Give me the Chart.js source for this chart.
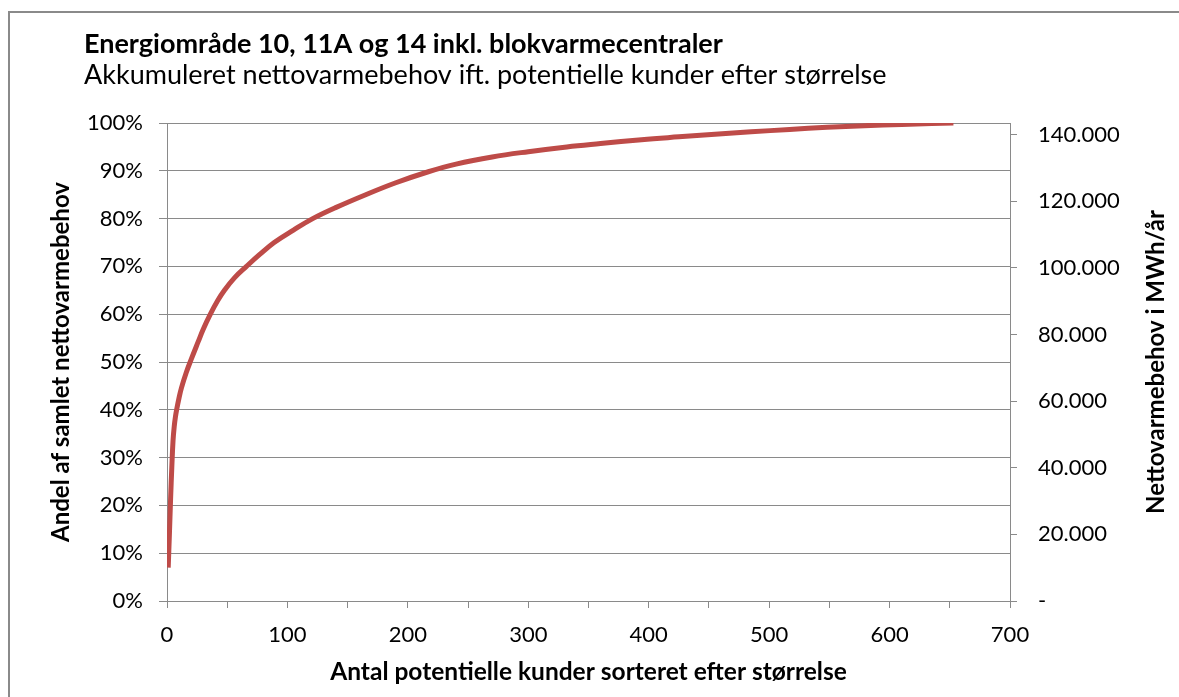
<!DOCTYPE html>
<html lang="da">
<head>
<meta charset="utf-8">
<title>Akkumuleret nettovarmebehov</title>
<script src="https://cdn.jsdelivr.net/npm/chart.js@4.4.1/dist/chart.umd.min.js"></script>
<style>
    html, body { margin: 0; padding: 0; background: #fff; overflow: hidden; }
    #frame { position: absolute; left: 8px; top: 11px; width: 1300px; height: 800px; border: 2px solid #8a8a8a; }
    #chart { position: absolute; left: 0; top: 0; }
</style>
</head>
<body>
<div id="frame"></div>
<canvas id="chart" width="1179" height="697"></canvas>
<script>
// Texts
const titleText = 'Energiområde 10, 11A og 14 inkl. blokvarmecentraler';
const subtitleText = 'Akkumuleret nettovarmebehov ift. potentielle kunder efter størrelse';
const xTitle = 'Antal potentielle kunder sorteret efter størrelse';
const yTitle = 'Andel af samlet nettovarmebehov';
const y2Title = 'Nettovarmebehov i MWh/år';

// Number of customers (sorted by size, largest first)
const customers = [1, 2, 3, 4, 5, 6, 7, 8, 10, 12, 16, 20, 26, 30, 36, 42, 48, 56, 66, 77, 89, 105, 121, 140, 165, 190, 217, 240, 270, 300, 332, 360, 394, 425, 455, 485, 517, 548, 579, 610, 635, 653];
// Accumulated share of total net heat demand (%)
const cumShare = [7, 14, 21.5, 28, 33.5, 36.5, 38.5, 40, 42.5, 44.6, 47.8, 50.5, 54.3, 56.8, 60, 62.8, 65.1, 67.6, 70, 72.5, 75, 77.6, 80, 82.3, 85, 87.5, 89.8, 91.4, 92.9, 94.0, 95.0, 95.7, 96.5, 97.1, 97.65, 98.15, 98.65, 99.1, 99.45, 99.7, 99.88, 100];

// Axis ranges / ticks
const xMax = 700, xStep = 50, xLabelStep = 100;
const shareTicksStep = 10;
const totalMWh = 143500;  // 100 % on the right axis
const mwhTicks = [0, 20000, 40000, 60000, 80000, 100000, 120000, 140000];

const fontFamily = 'Lato, "Open Sans", sans-serif';
const gridColor = '#8a8a8a';

function fmtThousands(v) {
    if (v === 0) return '-';
    return String(Math.round(v)).replace(/\B(?=(\d{3})+(?!\d))/g, '.');
}

// Draw title, subtitle and the right-hand axis title (reads bottom-up like the left one)
const headerPlugin = {
    id: 'header',
    afterDraw(chart) {
        const ctx = chart.ctx;
        const area = chart.chartArea;
        ctx.save();
        ctx.fillStyle = '#000';
        ctx.textAlign = 'left';
        ctx.textBaseline = 'alphabetic';
        ctx.font = 'bold 27px ' + fontFamily;
        ctx.fillText(titleText, 84, 53);
        ctx.font = '27px ' + fontFamily;
        ctx.fillText(subtitleText, 84, 84);

        ctx.translate(1156, (area.top + area.bottom) / 2);
        ctx.rotate(-Math.PI / 2);
        ctx.textAlign = 'center';
        ctx.textBaseline = 'middle';
        ctx.font = 'bold 24px ' + fontFamily;
        ctx.fillText(y2Title, 0, 0);
        ctx.restore();
    }
};

const points = customers.map((c, i) => ({ x: c, y: cumShare[i] }));

new Chart(document.getElementById('chart'), {
    type: 'line',
    data: {
        datasets: [{
            data: points,
            borderColor: '#be4b48',
            borderWidth: 5,
            pointRadius: 0,
            fill: false,
            tension: 0.4,
            yAxisID: 'y'
        }]
    },
    options: {
        responsive: false,
        animation: false,
        devicePixelRatio: 1,
        layout: { padding: { left: 43, right: 0, top: 123, bottom: 0 } },
        plugins: {
            legend: { display: false },
            tooltip: { enabled: false },
            title: { display: false }
        },
        scales: {
            x: {
                type: 'linear',
                min: 0,
                max: xMax,
                afterFit: (s) => { s.height = 96; },
                ticks: {
                    stepSize: xStep,
                    autoSkip: false,
                    maxRotation: 0,
                    padding: 14,
                    color: '#000',
                    font: { family: fontFamily, size: 22 },
                    callback: (v) => (v % xLabelStep === 0 ? String(v) : '')
                },
                grid: { drawOnChartArea: false, drawTicks: true, tickLength: 7, color: gridColor },
                border: { display: true, color: gridColor, width: 1 },
                title: {
                    display: true,
                    text: xTitle,
                    color: '#000',
                    font: { family: fontFamily, size: 24.5, weight: 'bold' },
                    padding: { top: 0, bottom: 10 }
                }
            },
            y: {
                position: 'left',
                min: 0,
                max: 100,
                afterFit: (s) => { s.width = 124; },
                ticks: {
                    stepSize: shareTicksStep,
                    padding: 16,
                    color: '#000',
                    font: { family: fontFamily, size: 22 },
                    callback: (v) => v + '%'
                },
                grid: { drawOnChartArea: true, drawTicks: true, tickLength: 8, color: gridColor, lineWidth: 1 },
                border: { display: true, color: gridColor, width: 1 },
                title: {
                    display: true,
                    text: yTitle,
                    color: '#000',
                    font: { family: fontFamily, size: 24, weight: 'bold' },
                    padding: { top: 4, bottom: 4 }
                }
            },
            y2: {
                position: 'right',
                min: 0,
                max: totalMWh,
                afterFit: (s) => { s.width = 169; },
                afterBuildTicks: (s) => { s.ticks = mwhTicks.map(v => ({ value: v })); },
                ticks: {
                    padding: 21,
                    color: '#000',
                    font: { family: fontFamily, size: 22 },
                    callback: (v) => fmtThousands(v)
                },
                grid: { drawOnChartArea: false, drawTicks: true, tickLength: 7, color: gridColor },
                border: { display: true, color: gridColor, width: 1 }
            }
        }
    },
    plugins: [headerPlugin]
});
</script>
</body>
</html>
